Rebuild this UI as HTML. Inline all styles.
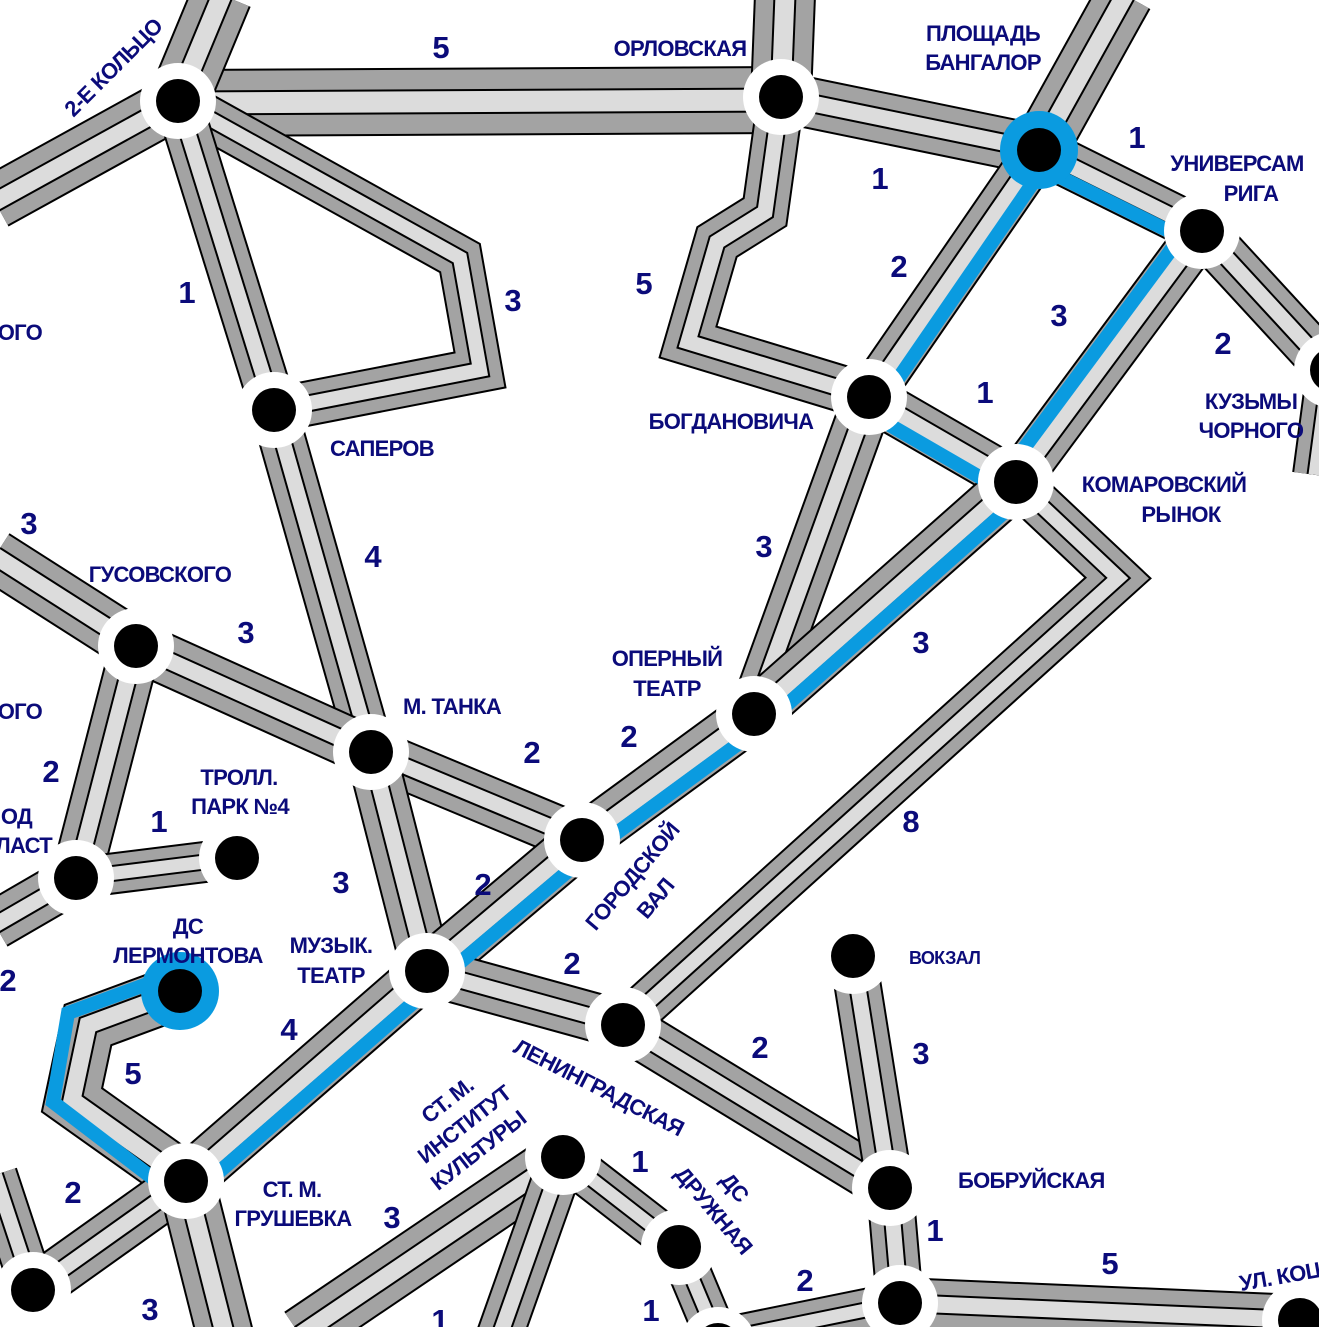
<!DOCTYPE html>
<html><head><meta charset="utf-8"><style>
html,body{margin:0;padding:0;background:#fff}
svg{display:block}
.n{font-family:"Liberation Sans",sans-serif;font-weight:bold;font-size:31px;fill:#0b0b7a;text-anchor:middle}
.l{font-family:"Liberation Sans Narrow","Liberation Sans",sans-serif;font-weight:bold;font-size:22px;letter-spacing:-0.7px;fill:#0b0b7a;text-anchor:middle}
.s{text-anchor:start}.e{text-anchor:end}
</style></head><body>
<svg width="1319" height="1327" viewBox="0 0 1319 1327" xmlns="http://www.w3.org/2000/svg">
<defs>
<path id="e1" d="M178 103 L781 100"/>
<path id="e2" d="M178 101 L222 -5"/>
<path id="e3" d="M178 101 L-5 202"/>
<path id="e4" d="M178 101 L274 410"/>
<path id="e5" d="M178 101 L460 258 L480 370 L274 410"/>
<path id="e6" d="M781 97 L785 -5"/>
<path id="e7" d="M781 97 L1039 150"/>
<path id="e8" d="M781 97 L765 212 L717 242 L688 342 L869 397"/>
<path id="e9" d="M1039 150 L1125 -5"/>
<path id="e10" d="M1039 150 L869 397"/>
<path id="e11" d="M1039 150 L1202 231"/>
<path id="e12" d="M1202 231 L1330 370 L1316 475"/>
<path id="e14" d="M1202 231 L1016 482"/>
<path id="e15" d="M869 397 L1016 482"/>
<path id="e16" d="M869 397 L754 714"/>
<path id="e17" d="M1016 482 L754 714 L582 840 L427 971 L186 1181"/>
<path id="e18" d="M1016 482 L1118 578 L623 1025"/>
<path id="e19" d="M274 410 L371 752"/>
<path id="e20" d="M-5 556 L136 646"/>
<path id="e21" d="M136 646 L371 752"/>
<path id="e22" d="M136 646 L76 878"/>
<path id="e23" d="M371 752 L582 840"/>
<path id="e24" d="M371 752 L427 971"/>
<path id="e25" d="M76 878 L237 858"/>
<path id="e26" d="M76 878 L-5 925"/>
<path id="e27" d="M180 991 L88 1025 L72 1100 L186 1181"/>
<path id="e28" d="M427 971 L623 1025"/>
<path id="e29" d="M623 1025 L890 1188"/>
<path id="e30" d="M853 956 L890 1188"/>
<path id="e31" d="M890 1188 L900 1303"/>
<path id="e32" d="M900 1303 L1300 1320"/>
<path id="e33" d="M900 1303 L905 1335"/>
<path id="e34" d="M186 1181 L33 1290"/>
<path id="e35" d="M186 1181 L225 1335"/>
<path id="e36" d="M33 1290 L-5 1175"/>
<path id="e37" d="M563 1157 L300 1335"/>
<path id="e38" d="M563 1157 L500 1335"/>
<path id="e39" d="M563 1157 L679 1247"/>
<path id="e40" d="M679 1247 L718 1340"/>
<path id="e41" d="M718 1340 L900 1303"/>
</defs>
<g fill="none" stroke-linejoin="miter" stroke-miterlimit="10">
<g id="roads">
<use href="#e1" stroke="#000" stroke-width="68"/><use href="#e1" stroke="#a3a3a3" stroke-width="64"/><use href="#e1" stroke="#000" stroke-width="25"/><use href="#e1" stroke="#dcdcdc" stroke-width="21"/>
<use href="#e2" stroke="#000" stroke-width="62"/><use href="#e2" stroke="#a3a3a3" stroke-width="58"/><use href="#e2" stroke="#000" stroke-width="23"/><use href="#e2" stroke="#dcdcdc" stroke-width="19"/>
<use href="#e3" stroke="#000" stroke-width="56"/><use href="#e3" stroke="#a3a3a3" stroke-width="52"/><use href="#e3" stroke="#000" stroke-width="21"/><use href="#e3" stroke="#dcdcdc" stroke-width="17"/>
<use href="#e5" stroke="#000" stroke-width="46"/><use href="#e5" stroke="#a3a3a3" stroke-width="42"/><use href="#e5" stroke="#000" stroke-width="18"/><use href="#e5" stroke="#dcdcdc" stroke-width="14"/>
<use href="#e4" stroke="#000" stroke-width="48"/><use href="#e4" stroke="#a3a3a3" stroke-width="44"/><use href="#e4" stroke="#000" stroke-width="19"/><use href="#e4" stroke="#dcdcdc" stroke-width="15"/>
<use href="#e6" stroke="#000" stroke-width="62"/><use href="#e6" stroke="#a3a3a3" stroke-width="58"/><use href="#e6" stroke="#000" stroke-width="23"/><use href="#e6" stroke="#dcdcdc" stroke-width="19"/>
<use href="#e7" stroke="#000" stroke-width="52"/><use href="#e7" stroke="#a3a3a3" stroke-width="48"/><use href="#e7" stroke="#000" stroke-width="20"/><use href="#e7" stroke="#dcdcdc" stroke-width="16"/>
<use href="#e8" stroke="#000" stroke-width="48"/><use href="#e8" stroke="#a3a3a3" stroke-width="44"/><use href="#e8" stroke="#000" stroke-width="19"/><use href="#e8" stroke="#dcdcdc" stroke-width="15"/>
<use href="#e9" stroke="#000" stroke-width="58"/><use href="#e9" stroke="#a3a3a3" stroke-width="54"/><use href="#e9" stroke="#000" stroke-width="22"/><use href="#e9" stroke="#dcdcdc" stroke-width="18"/>
<use href="#e16" stroke="#000" stroke-width="52"/><use href="#e16" stroke="#a3a3a3" stroke-width="48"/><use href="#e16" stroke="#000" stroke-width="20"/><use href="#e16" stroke="#dcdcdc" stroke-width="16"/>
<use href="#e10" stroke="#000" stroke-width="48"/><use href="#e10" stroke="#a3a3a3" stroke-width="44"/><use href="#e10" stroke="#000" stroke-width="19"/><use href="#e10" stroke="#dcdcdc" stroke-width="15"/>
<use href="#e11" stroke="#000" stroke-width="48"/><use href="#e11" stroke="#a3a3a3" stroke-width="44"/><use href="#e11" stroke="#000" stroke-width="19"/><use href="#e11" stroke="#dcdcdc" stroke-width="15"/>
<use href="#e12" stroke="#000" stroke-width="48"/><use href="#e12" stroke="#a3a3a3" stroke-width="44"/><use href="#e12" stroke="#000" stroke-width="19"/><use href="#e12" stroke="#dcdcdc" stroke-width="15"/>
<use href="#e14" stroke="#000" stroke-width="48"/><use href="#e14" stroke="#a3a3a3" stroke-width="44"/><use href="#e14" stroke="#000" stroke-width="19"/><use href="#e14" stroke="#dcdcdc" stroke-width="15"/>
<use href="#e15" stroke="#000" stroke-width="48"/><use href="#e15" stroke="#a3a3a3" stroke-width="44"/><use href="#e15" stroke="#000" stroke-width="19"/><use href="#e15" stroke="#dcdcdc" stroke-width="15"/>
<use href="#e18" stroke="#000" stroke-width="46"/><use href="#e18" stroke="#a3a3a3" stroke-width="42"/><use href="#e18" stroke="#000" stroke-width="18"/><use href="#e18" stroke="#dcdcdc" stroke-width="14"/>
<use href="#e19" stroke="#000" stroke-width="48"/><use href="#e19" stroke="#a3a3a3" stroke-width="44"/><use href="#e19" stroke="#000" stroke-width="19"/><use href="#e19" stroke="#dcdcdc" stroke-width="15"/>
<use href="#e20" stroke="#000" stroke-width="54"/><use href="#e20" stroke="#a3a3a3" stroke-width="50"/><use href="#e20" stroke="#000" stroke-width="21"/><use href="#e20" stroke="#dcdcdc" stroke-width="17"/>
<use href="#e21" stroke="#000" stroke-width="52"/><use href="#e21" stroke="#a3a3a3" stroke-width="48"/><use href="#e21" stroke="#000" stroke-width="20"/><use href="#e21" stroke="#dcdcdc" stroke-width="16"/>
<use href="#e22" stroke="#000" stroke-width="52"/><use href="#e22" stroke="#a3a3a3" stroke-width="48"/><use href="#e22" stroke="#000" stroke-width="20"/><use href="#e22" stroke="#dcdcdc" stroke-width="16"/>
<use href="#e23" stroke="#000" stroke-width="50"/><use href="#e23" stroke="#a3a3a3" stroke-width="46"/><use href="#e23" stroke="#000" stroke-width="19"/><use href="#e23" stroke="#dcdcdc" stroke-width="15"/>
<use href="#e24" stroke="#000" stroke-width="52"/><use href="#e24" stroke="#a3a3a3" stroke-width="48"/><use href="#e24" stroke="#000" stroke-width="20"/><use href="#e24" stroke="#dcdcdc" stroke-width="16"/>
<use href="#e17" stroke="#000" stroke-width="52"/><use href="#e17" stroke="#a3a3a3" stroke-width="48"/><use href="#e17" stroke="#000" stroke-width="20"/><use href="#e17" stroke="#dcdcdc" stroke-width="16"/>
<use href="#e25" stroke="#000" stroke-width="42"/><use href="#e25" stroke="#a3a3a3" stroke-width="38"/><use href="#e25" stroke="#000" stroke-width="17"/><use href="#e25" stroke="#dcdcdc" stroke-width="13"/>
<use href="#e26" stroke="#000" stroke-width="50"/><use href="#e26" stroke="#a3a3a3" stroke-width="46"/><use href="#e26" stroke="#000" stroke-width="19"/><use href="#e26" stroke="#dcdcdc" stroke-width="15"/>
<use href="#e27" stroke="#000" stroke-width="56"/><use href="#e27" stroke="#a3a3a3" stroke-width="52"/><use href="#e27" stroke="#000" stroke-width="21"/><use href="#e27" stroke="#dcdcdc" stroke-width="17"/>
<use href="#e28" stroke="#000" stroke-width="50"/><use href="#e28" stroke="#a3a3a3" stroke-width="46"/><use href="#e28" stroke="#000" stroke-width="19"/><use href="#e28" stroke="#dcdcdc" stroke-width="15"/>
<use href="#e29" stroke="#000" stroke-width="50"/><use href="#e29" stroke="#a3a3a3" stroke-width="46"/><use href="#e29" stroke="#000" stroke-width="19"/><use href="#e29" stroke="#dcdcdc" stroke-width="15"/>
<use href="#e30" stroke="#000" stroke-width="48"/><use href="#e30" stroke="#a3a3a3" stroke-width="44"/><use href="#e30" stroke="#000" stroke-width="19"/><use href="#e30" stroke="#dcdcdc" stroke-width="15"/>
<use href="#e31" stroke="#000" stroke-width="48"/><use href="#e31" stroke="#a3a3a3" stroke-width="44"/><use href="#e31" stroke="#000" stroke-width="19"/><use href="#e31" stroke="#dcdcdc" stroke-width="15"/>
<use href="#e32" stroke="#000" stroke-width="52"/><use href="#e32" stroke="#a3a3a3" stroke-width="48"/><use href="#e32" stroke="#000" stroke-width="20"/><use href="#e32" stroke="#dcdcdc" stroke-width="16"/>
<use href="#e33" stroke="#000" stroke-width="48"/><use href="#e33" stroke="#a3a3a3" stroke-width="44"/><use href="#e33" stroke="#000" stroke-width="19"/><use href="#e33" stroke="#dcdcdc" stroke-width="15"/>
<use href="#e34" stroke="#000" stroke-width="50"/><use href="#e34" stroke="#a3a3a3" stroke-width="46"/><use href="#e34" stroke="#000" stroke-width="19"/><use href="#e34" stroke="#dcdcdc" stroke-width="15"/>
<use href="#e35" stroke="#000" stroke-width="58"/><use href="#e35" stroke="#a3a3a3" stroke-width="54"/><use href="#e35" stroke="#000" stroke-width="22"/><use href="#e35" stroke="#dcdcdc" stroke-width="18"/>
<use href="#e36" stroke="#000" stroke-width="46"/><use href="#e36" stroke="#a3a3a3" stroke-width="42"/><use href="#e36" stroke="#000" stroke-width="18"/><use href="#e36" stroke="#dcdcdc" stroke-width="14"/>
<use href="#e37" stroke="#000" stroke-width="56"/><use href="#e37" stroke="#a3a3a3" stroke-width="52"/><use href="#e37" stroke="#000" stroke-width="21"/><use href="#e37" stroke="#dcdcdc" stroke-width="17"/>
<use href="#e38" stroke="#000" stroke-width="48"/><use href="#e38" stroke="#a3a3a3" stroke-width="44"/><use href="#e38" stroke="#000" stroke-width="19"/><use href="#e38" stroke="#dcdcdc" stroke-width="15"/>
<use href="#e39" stroke="#000" stroke-width="44"/><use href="#e39" stroke="#a3a3a3" stroke-width="40"/><use href="#e39" stroke="#000" stroke-width="17"/><use href="#e39" stroke="#dcdcdc" stroke-width="13"/>
<use href="#e40" stroke="#000" stroke-width="44"/><use href="#e40" stroke="#a3a3a3" stroke-width="40"/><use href="#e40" stroke="#000" stroke-width="17"/><use href="#e40" stroke="#dcdcdc" stroke-width="13"/>
<use href="#e41" stroke="#000" stroke-width="44"/><use href="#e41" stroke="#a3a3a3" stroke-width="40"/><use href="#e41" stroke="#000" stroke-width="17"/><use href="#e41" stroke="#dcdcdc" stroke-width="13"/>
</g>
<g stroke="#0a9be0" stroke-width="14">
<path d="M1032 163 L1195 244"/>
<path d="M1191 223 L1005 474"/>
<path d="M1050 158 L880 405"/>
<path d="M862 409 L1009 494"/>
<path d="M1026 493 L764 725 L592 851 L437 982 L196 1192"/>
<path d="M172 975 L68 1013 L53 1102 L172 1193"/>
</g>
</g>
<g>
<circle cx="178" cy="101" r="38" fill="#fff"/><circle cx="178" cy="101" r="22"/>
<circle cx="781" cy="97" r="38" fill="#fff"/><circle cx="781" cy="97" r="22"/>
<circle cx="1039" cy="150" r="39" fill="#0a9be0"/><circle cx="1039" cy="150" r="22"/>
<circle cx="1202" cy="231" r="38" fill="#fff"/><circle cx="1202" cy="231" r="22"/>
<circle cx="1332" cy="370" r="38" fill="#fff"/><circle cx="1332" cy="370" r="22"/>
<circle cx="869" cy="397" r="38" fill="#fff"/><circle cx="869" cy="397" r="22"/>
<circle cx="1016" cy="482" r="38" fill="#fff"/><circle cx="1016" cy="482" r="22"/>
<circle cx="274" cy="410" r="38" fill="#fff"/><circle cx="274" cy="410" r="22"/>
<circle cx="136" cy="646" r="38" fill="#fff"/><circle cx="136" cy="646" r="22"/>
<circle cx="371" cy="752" r="38" fill="#fff"/><circle cx="371" cy="752" r="22"/>
<circle cx="754" cy="714" r="38" fill="#fff"/><circle cx="754" cy="714" r="22"/>
<circle cx="582" cy="840" r="38" fill="#fff"/><circle cx="582" cy="840" r="22"/>
<circle cx="237" cy="858" r="38" fill="#fff"/><circle cx="237" cy="858" r="22"/>
<circle cx="76" cy="878" r="38" fill="#fff"/><circle cx="76" cy="878" r="22"/>
<circle cx="180" cy="991" r="39" fill="#0a9be0"/><circle cx="180" cy="991" r="22"/>
<circle cx="427" cy="971" r="38" fill="#fff"/><circle cx="427" cy="971" r="22"/>
<circle cx="623" cy="1025" r="38" fill="#fff"/><circle cx="623" cy="1025" r="22"/>
<circle cx="853" cy="956" r="38" fill="#fff"/><circle cx="853" cy="956" r="22"/>
<circle cx="186" cy="1181" r="38" fill="#fff"/><circle cx="186" cy="1181" r="22"/>
<circle cx="563" cy="1157" r="38" fill="#fff"/><circle cx="563" cy="1157" r="22"/>
<circle cx="679" cy="1247" r="38" fill="#fff"/><circle cx="679" cy="1247" r="22"/>
<circle cx="890" cy="1188" r="38" fill="#fff"/><circle cx="890" cy="1188" r="22"/>
<circle cx="900" cy="1303" r="38" fill="#fff"/><circle cx="900" cy="1303" r="22"/>
<circle cx="1300" cy="1320" r="38" fill="#fff"/><circle cx="1300" cy="1320" r="22"/>
<circle cx="33" cy="1290" r="38" fill="#fff"/><circle cx="33" cy="1290" r="22"/>
<circle cx="718" cy="1345" r="38" fill="#fff"/><circle cx="718" cy="1345" r="22"/>
</g>
<g class="n">
<text x="441" y="58">5</text><text x="1137" y="148">1</text><text x="880" y="189">1</text>
<text x="899" y="277">2</text><text x="1059" y="326">3</text><text x="644" y="294">5</text>
<text x="187" y="303">1</text><text x="513" y="311">3</text><text x="1223" y="354">2</text>
<text x="985" y="403">1</text><text x="29" y="534">3</text><text x="373" y="567">4</text>
<text x="764" y="557">3</text><text x="246" y="643">3</text><text x="921" y="653">3</text>
<text x="51" y="782">2</text><text x="532" y="763">2</text><text x="629" y="747">2</text>
<text x="159" y="832">1</text><text x="911" y="832">8</text><text x="341" y="893">3</text>
<text x="483" y="895">2</text><text x="8" y="991">2</text><text x="572" y="974">2</text>
<text x="289" y="1040">4</text><text x="133" y="1084">5</text><text x="760" y="1058">2</text>
<text x="921" y="1064">3</text><text x="73" y="1203">2</text><text x="392" y="1228">3</text>
<text x="640" y="1172">1</text><text x="935" y="1241">1</text><text x="1110" y="1274">5</text>
<text x="805" y="1291">2</text><text x="150" y="1320">3</text><text x="440" y="1331">1</text>
<text x="651" y="1321">1</text>
</g>
<g class="l">
<text x="680" y="56">ОРЛОВСКАЯ</text>
<text x="983" y="41">ПЛОЩАДЬ</text><text x="983" y="70">БАНГАЛОР</text>
<text x="1237" y="171">УНИВЕРСАМ</text><text x="1251" y="201">РИГА</text>
<text class="e" x="42" y="340">ОГО</text>
<text class="s" x="330" y="456">САПЕРОВ</text>
<text x="731" y="429">БОГДАНОВИЧА</text>
<text x="1251" y="409">КУЗЬМЫ</text><text x="1251" y="438">ЧОРНОГО</text>
<text x="1164" y="492">КОМАРОВСКИЙ</text><text x="1181" y="522">РЫНОК</text>
<text x="160" y="582">ГУСОВСКОГО</text>
<text x="667" y="666">ОПЕРНЫЙ</text><text x="667" y="696">ТЕАТР</text>
<text class="e" x="42" y="719">ОГО</text>
<text class="s" x="403" y="714">М. ТАНКА</text>
<text x="239" y="785">ТРОЛЛ.</text><text x="240" y="814">ПАРК №4</text>
<text class="e" x="32" y="824">ОД</text><text class="e" x="52" y="853">ЛАСТ</text>
<text x="188" y="934">ДС</text><text x="188" y="963">ЛЕРМОНТОВА</text>
<text x="331" y="953">МУЗЫК.</text><text x="331" y="983">ТЕАТР</text>
<text class="s" x="909" y="964" style="font-size:18px">ВОКЗАЛ</text>
<text class="s" x="958" y="1188">БОБРУЙСКАЯ</text>
<text x="292" y="1197">СТ. М.</text><text x="293" y="1226">ГРУШЕВКА</text>
<text transform="translate(113,67) rotate(-45)" y="8">2-Е КОЛЬЦО</text>
<text transform="translate(632,876) rotate(-50)" y="8">ГОРОДСКОЙ</text>
<text transform="translate(655,898) rotate(-50)" y="8">ВАЛ</text>
<text transform="translate(599,1087) rotate(27)" y="8">ЛЕНИНГРАДСКАЯ</text>
<text transform="translate(447,1100) rotate(-38)" y="8">СТ. М.</text>
<text transform="translate(464,1124) rotate(-38)" y="8">ИНСТИТУТ</text>
<text transform="translate(478,1150) rotate(-38)" y="8">КУЛЬТУРЫ</text>
<text transform="translate(735,1187) rotate(50)" y="8">ДС</text>
<text transform="translate(714,1210) rotate(50)" y="8">ДРУЖНАЯ</text>
<text transform="translate(1280,1276) rotate(-10)" y="8">УЛ. КОЦ</text>
</g>
</svg>
</body></html>
